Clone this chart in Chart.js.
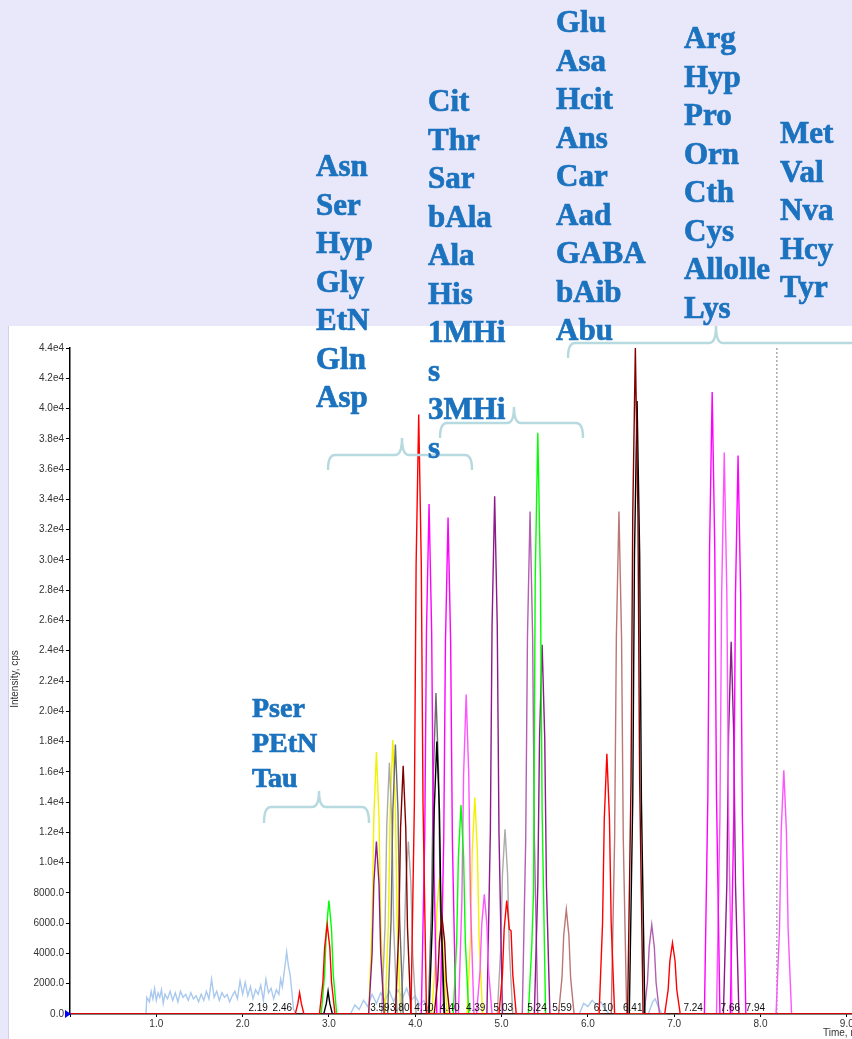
<!DOCTYPE html>
<html>
<head>
<meta charset="utf-8">
<title>Amino acid chromatogram</title>
<script src="https://cdn.jsdelivr.net/npm/chart.js@4.4.0/dist/chart.umd.min.js"></script>
<style>
  html, body { margin: 0; padding: 0; background: #E9E7FA; overflow: hidden; }
  canvas { display: block; }
</style>
</head>
<body>
<canvas id="chromChart" width="852" height="1039"></canvas>
<script>
// time axis (min) and intensity axis (cps)
const timeMin = 0, timeMax = 9.06;
const intensityMax = 44000;
const dashedMarkerTime = 8.19;

// each peak: [time, intensity] points
const lightBlueTrace = [
  [0.88, 0], [0.89, 1100], [0.92, 800], [0.94, 1500], [0.96, 1000], [0.98, 1700], [1.00, 900],
  [1.02, 1400], [1.04, 1100], [1.06, 1600], [1.08, 700], [1.10, 1300], [1.13, 1000], [1.16, 1500],
  [1.19, 900], [1.22, 1400], [1.25, 800], [1.28, 1500], [1.31, 1100], [1.34, 1300], [1.37, 900],
  [1.40, 1400], [1.43, 1000], [1.46, 1200], [1.49, 800], [1.52, 1300], [1.55, 900], [1.58, 1500],
  [1.61, 1000], [1.64, 2300], [1.67, 1100], [1.70, 1500], [1.73, 900], [1.76, 1400], [1.79, 1100],
  [1.82, 1300], [1.85, 800], [1.88, 1200], [1.91, 1500], [1.94, 1000], [1.97, 2200], [2.00, 1300],
  [2.03, 2100], [2.06, 1200], [2.09, 1800], [2.12, 1000], [2.15, 1600], [2.18, 1300], [2.21, 1900],
  [2.24, 900], [2.27, 2300], [2.30, 1400], [2.33, 1700], [2.36, 1000], [2.39, 1600], [2.42, 1300],
  [2.44, 2300], [2.46, 1800], [2.48, 2700], [2.50, 3600], [2.51, 4100], [2.53, 3200], [2.55, 2600],
  [2.57, 1500], [2.59, 300], [2.62, 0], [3.25, 0], [3.30, 600], [3.35, 300], [3.40, 900], [3.45, 500],
  [3.50, 1300], [3.55, 700], [3.60, 1400], [3.65, 900], [3.70, 1500], [3.75, 800], [3.80, 1600],
  [3.85, 1000], [3.90, 1700], [3.95, 900], [4.00, 1200], [4.05, 600], [4.10, 900], [4.15, 300],
  [4.20, 0], [5.90, 0], [5.95, 700], [6.00, 500], [6.05, 900], [6.10, 600], [6.15, 800], [6.20, 300],
  [6.25, 0], [6.70, 0], [6.75, 800], [6.78, 1000], [6.82, 400], [6.86, 0]
];

const redPeaks = [
  [[2.61, 0], [2.64, 700], [2.66, 1400], [2.68, 700], [2.71, 0]],
  [[2.89, 0], [2.93, 2100], [2.95, 4400], [2.98, 5900], [3.01, 4400], [3.03, 2100], [3.07, 0]],
  [[3.95, 0], [3.99, 13900], [4.01, 29700], [4.04, 39600], [4.07, 29700], [4.09, 13900], [4.13, 0]],
  [[4.97, 0], [5.01, 2600], [5.03, 5600], [5.06, 7500], [5.09, 5600], [5.11, 5500], [5.13, 2600], [5.17, 0]],
  [[6.13, 0], [6.17, 6000], [6.19, 12900], [6.22, 17200], [6.25, 12900], [6.27, 6000], [6.31, 0]],
  [[6.89, 0], [6.93, 1600], [6.95, 3500], [6.98, 4700], [7.01, 3500], [7.03, 1600], [7.07, 0]]
];
const greenPeaks = [
  [[2.91, 0], [2.95, 2600], [2.97, 5600], [3.00, 7500], [3.03, 5600], [3.05, 2600], [3.09, 0]],
  [[4.44, 0], [4.48, 4800], [4.50, 10400], [4.53, 13800], [4.56, 10400], [4.58, 4800], [4.62, 0]],
  [[5.31, 0], [5.35, 4500], [5.37, 8000], [5.39, 28800], [5.42, 38400], [5.45, 28800], [5.47, 13400], [5.51, 0]]
];
const magentaPeaks = [
  [[4.07, 0], [4.11, 11800], [4.13, 25300], [4.16, 33700], [4.19, 25300], [4.21, 11800], [4.25, 0]],
  [[4.29, 0], [4.33, 11500], [4.35, 24600], [4.38, 32800], [4.41, 24600], [4.43, 11500], [4.47, 0]],
  [[7.35, 0], [7.39, 14400], [7.41, 30800], [7.44, 41100], [7.47, 30800], [7.49, 14400], [7.53, 0]],
  [[7.65, 0], [7.69, 12900], [7.71, 27700], [7.74, 36900], [7.77, 27700], [7.79, 12900], [7.83, 0]]
];
const pinkPeaks = [
  [[4.50, 0], [4.54, 7400], [4.56, 15800], [4.59, 21100], [4.62, 15800], [4.64, 7400], [4.68, 0]],
  [[4.71, 0], [4.75, 2800], [4.77, 5900], [4.80, 7900], [4.83, 5900], [4.85, 2800], [4.89, 0]],
  [[7.49, 0], [7.53, 13000], [7.55, 27800], [7.58, 37100], [7.61, 27800], [7.63, 13000], [7.67, 0]],
  [[8.18, 0], [8.22, 5600], [8.24, 12100], [8.27, 16100], [8.30, 12100], [8.32, 5600], [8.36, 0]]
];
const purplePeaks = [
  [[3.46, 0], [3.50, 4000], [3.52, 8600], [3.55, 11400], [3.58, 8600], [3.60, 4000], [3.64, 0]],
  [[4.83, 0], [4.87, 12000], [4.89, 25700], [4.92, 34200], [4.95, 25700], [4.97, 12000], [5.01, 0]],
  [[5.38, 0], [5.42, 8500], [5.44, 18300], [5.47, 24400], [5.50, 18300], [5.52, 8500], [5.56, 0]],
  [[7.57, 0], [7.61, 8600], [7.63, 18500], [7.66, 24600], [7.69, 18500], [7.71, 8600], [7.75, 0]]
];
const orchidPeaks = [
  [[5.24, 0], [5.28, 11600], [5.30, 24900], [5.33, 33200], [5.36, 24900], [5.38, 11600], [5.42, 0]],
  [[6.65, 0], [6.69, 2100], [6.71, 4400], [6.74, 5900], [6.77, 4400], [6.79, 2100], [6.83, 0]]
];
const yellowPeaks = [
  [[3.46, 0], [3.50, 6100], [3.52, 13000], [3.55, 17300], [3.58, 13000], [3.60, 6100], [3.64, 0]],
  [[3.65, 0], [3.69, 6300], [3.71, 13600], [3.74, 18100], [3.77, 13600], [3.79, 6300], [3.83, 0]],
  [[4.19, 0], [4.23, 3200], [4.25, 6800], [4.28, 9000], [4.31, 6800], [4.33, 3200], [4.37, 0]],
  [[4.60, 0], [4.64, 5000], [4.66, 10700], [4.69, 14300], [4.72, 10700], [4.74, 5000], [4.78, 0]]
];
const grayPeaks = [
  [[3.61, 0], [3.65, 5800], [3.67, 12500], [3.70, 16600], [3.73, 12500], [3.75, 5800], [3.79, 0]],
  [[3.83, 0], [3.87, 4000], [3.89, 8600], [3.92, 11400], [3.95, 8600], [3.97, 4000], [4.01, 0]],
  [[4.95, 0], [4.99, 4300], [5.01, 9200], [5.04, 12200], [5.07, 9200], [5.09, 4300], [5.13, 0]]
];
const darkGrayPeaks = [
  [[3.68, 0], [3.72, 6200], [3.74, 13400], [3.77, 17800], [3.80, 13400], [3.82, 6200], [3.86, 0]],
  [[4.15, 0], [4.19, 7400], [4.21, 15900], [4.24, 21200], [4.27, 15900], [4.29, 7400], [4.33, 0]]
];
const blackPeaks = [
  [[2.94, 0], [2.97, 700], [2.99, 1500], [3.01, 700], [3.04, 0]],
  [[4.16, 0], [4.20, 6300], [4.22, 13500], [4.25, 18000], [4.28, 13500], [4.30, 6300], [4.34, 0]],
  [[6.48, 0], [6.52, 14200], [6.54, 30400], [6.57, 40500], [6.60, 30400], [6.62, 14200], [6.66, 0]]
];
const maroonPeaks = [
  [[3.77, 0], [3.81, 5700], [3.83, 12300], [3.86, 16400], [3.89, 12300], [3.91, 5700], [3.95, 0]],
  [[4.22, 0], [4.26, 2200], [4.28, 4800], [4.31, 6400], [4.34, 4800], [4.36, 2200], [4.40, 0]],
  [[6.46, 0], [6.50, 15400], [6.52, 33000], [6.55, 44000], [6.58, 33000], [6.60, 15400], [6.64, 0]]
];
const rosyPeaks = [
  [[5.66, 0], [5.70, 2400], [5.72, 5200], [5.75, 6900], [5.78, 5200], [5.80, 2400], [5.84, 0]],
  [[6.27, 0], [6.31, 11600], [6.33, 24900], [6.36, 33200], [6.39, 24900], [6.41, 11600], [6.45, 0]]
];

// retention time labels printed along the baseline
const rtLabelText = ['2.19', '2.46', '3.59', '3.80', '4.10', '4.40', '4.39', '5.03', '5.24', '5.59', '6.10', '6.41', '7.24', '7.66', '7.94'];
const rtLabelTime = [2.18, 2.46, 3.59, 3.82, 4.10, 4.40, 4.70, 5.02, 5.41, 5.70, 6.18, 6.52, 7.22, 7.65, 7.94];

// compound groups written over the chart
const groupTau = ['Pser', 'PEtN', 'Tau'];
const groupAsn = ['Asn', 'Ser', 'Hyp', 'Gly', 'EtN', 'Gln', 'Asp'];
const groupCit = ['Cit', 'Thr', 'Sar', 'bAla', 'Ala', 'His', '1MHi', 's', '3MHi', 's'];
const groupGlu = ['Glu', 'Asa', 'Hcit', 'Ans', 'Car', 'Aad', 'GABA', 'bAib', 'Abu'];
const groupArg = ['Arg', 'Hyp', 'Pro', 'Orn', 'Cth', 'Cys', 'Allolle', 'Lys'];
const groupMet = ['Met', 'Val', 'Nva', 'Hcy', 'Tyr'];

function toPoints(peaks) {
  const pts = [{ x: timeMin, y: 0 }];
  peaks.forEach(pk => pk.forEach(p => pts.push({ x: p[0], y: p[1] })));
  pts.push({ x: timeMax, y: 0 });
  return pts;
}

function trace(label, color, peaks) {
  return {
    label: label,
    data: toPoints(peaks),
    borderColor: color,
    borderWidth: 1.4,
    pointRadius: 0,
    tension: 0,
    fill: false
  };
}

const datasets = [
  trace('Red', '#FF0000', redPeaks),
  trace('Maroon', '#800000', maroonPeaks),
  trace('Black', '#000000', blackPeaks),
  trace('Green', '#00FF00', greenPeaks),
  trace('Magenta', '#FF00FF', magentaPeaks),
  trace('Pink', '#FF55FF', pinkPeaks),
  trace('Purple', '#8B1A8B', purplePeaks),
  trace('Orchid', '#B360B3', orchidPeaks),
  trace('Rosy', '#BC7676', rosyPeaks),
  trace('DarkGray', '#6A6A6A', darkGrayPeaks),
  trace('Gray', '#ABABAB', grayPeaks),
  trace('Yellow', '#F2F200', yellowPeaks),
  trace('LightBlue', '#A9C9EE', [lightBlueTrace]),
  {
    label: 'Marker',
    data: [{ x: dashedMarkerTime, y: 0 }, { x: dashedMarkerTime, y: intensityMax }],
    borderColor: '#808080',
    borderWidth: 1,
    borderDash: [2, 2],
    pointRadius: 0
  }
];

const labelBlue = '#1B72BE';
const braceColor = '#B6DADF';

function drawColumn(ctx, names, x, y0, step, size) {
  ctx.font = 'bold ' + size + 'px "Liberation Serif", "Times New Roman", serif';
  names.forEach((n, i) => {
    ctx.fillText(n, x, y0 + i * step);
    ctx.strokeText(n, x, y0 + i * step);
  });
}

function drawBrace(ctx, x1, x2, yEnd, yBar, xc, yTip) {
  const r = 7;
  ctx.beginPath();
  ctx.moveTo(x1, yEnd);
  ctx.quadraticCurveTo(x1, yBar, x1 + r, yBar);
  ctx.lineTo(xc - r, yBar);
  ctx.quadraticCurveTo(xc, yBar, xc, yTip);
  ctx.quadraticCurveTo(xc, yBar, xc + r, yBar);
  ctx.lineTo(x2 - r, yBar);
  ctx.quadraticCurveTo(x2, yBar, x2, yEnd);
  ctx.stroke();
}

const pagePlugin = {
  id: 'pagePlugin',
  beforeDraw(chart) {
    const ctx = chart.ctx;
    ctx.save();
    ctx.fillStyle = '#E9E7FA';
    ctx.fillRect(0, 0, chart.width, chart.height);
    ctx.fillStyle = '#FFFFFF';
    ctx.fillRect(8, 326, chart.width - 8, chart.height - 326);
    ctx.fillStyle = '#D2D0E2';
    ctx.fillRect(8, 326, 1, chart.height - 326);
    ctx.restore();
  },
  afterDraw(chart) {
    const ctx = chart.ctx;
    const xs = chart.scales.x;
    ctx.save();

    // baseline retention time labels
    ctx.fillStyle = '#111';
    ctx.font = '10px "Liberation Sans", Arial, sans-serif';
    ctx.textAlign = 'center';
    ctx.textBaseline = 'middle';
    rtLabelText.forEach((t, i) => ctx.fillText(t, xs.getPixelForValue(rtLabelTime[i]), 1008));

    // axis titles
    ctx.fillStyle = '#333';
    ctx.textAlign = 'left';
    ctx.fillText('Time, min', 823, 1033);
    ctx.save();
    ctx.translate(15, 679);
    ctx.rotate(-Math.PI / 2);
    ctx.textAlign = 'center';
    ctx.fillText('Intensity, cps', 0, 0);
    ctx.restore();

    // start marker on the time axis
    ctx.fillStyle = '#0000FF';
    ctx.beginPath();
    ctx.moveTo(65, 1010);
    ctx.lineTo(71, 1014);
    ctx.lineTo(65, 1018);
    ctx.closePath();
    ctx.fill();

    // braces
    ctx.strokeStyle = braceColor;
    ctx.lineWidth = 2.5;
    drawBrace(ctx, 264, 369, 823, 807, 319, 791);
    drawBrace(ctx, 328, 472, 470, 455, 402, 438);
    drawBrace(ctx, 440, 583, 438, 423, 514, 407);
    drawBrace(ctx, 568, 920, 358, 343, 716, 326);

    // compound names
    ctx.fillStyle = labelBlue;
    ctx.strokeStyle = labelBlue;
    ctx.lineWidth = 0.7;
    ctx.textAlign = 'left';
    ctx.textBaseline = 'alphabetic';
    drawColumn(ctx, groupAsn, 316, 176, 38.5, 31);
    drawColumn(ctx, groupCit, 428, 111, 38.5, 31);
    drawColumn(ctx, groupGlu, 556, 32, 38.5, 31);
    drawColumn(ctx, groupArg, 684, 48, 38.5, 31);
    drawColumn(ctx, groupMet, 780, 143, 38.5, 31);
    drawColumn(ctx, groupTau, 252, 717, 35, 28);
    ctx.restore();
  }
};

const tickFont = { family: '"Liberation Sans", Arial, sans-serif', size: 10 };

new Chart(document.getElementById('chromChart').getContext('2d'), {
  type: 'line',
  data: { datasets: datasets },
  options: {
    responsive: false,
    animation: false,
    devicePixelRatio: 1,
    layout: { padding: { left: 8, top: 348, right: 0, bottom: 0 } },
    plugins: {
      legend: { display: false },
      tooltip: { enabled: false }
    },
    scales: {
      x: {
        type: 'linear',
        min: timeMin,
        max: timeMax,
        border: { color: '#000', width: 1.5 },
        grid: { drawOnChartArea: false, drawTicks: true, tickLength: 3, color: '#000' },
        ticks: {
          stepSize: 1,
          includeBounds: false,
          autoSkip: false,
          maxRotation: 0,
          padding: 1,
          color: '#333',
          font: tickFont,
          callback: v => v === 0 ? '' : v.toFixed(1)
        },
        afterFit: s => { s.height = 25; s.paddingLeft = 0; s.paddingRight = 0; }
      },
      y: {
        min: 0,
        max: intensityMax,
        border: { color: '#000', width: 1.5 },
        grid: { drawOnChartArea: false, drawTicks: true, tickLength: 4, color: '#000' },
        ticks: {
          stepSize: 2000,
          autoSkip: false,
          padding: 2,
          color: '#333',
          font: tickFont,
          callback: v => v >= 10000 ? (v / 10000).toFixed(1) + 'e4' : v.toFixed(1)
        },
        afterFit: s => { s.width = 62; s.paddingTop = 0; s.paddingBottom = 0; }
      }
    }
  },
  plugins: [pagePlugin]
});
</script>
</body>
</html>
